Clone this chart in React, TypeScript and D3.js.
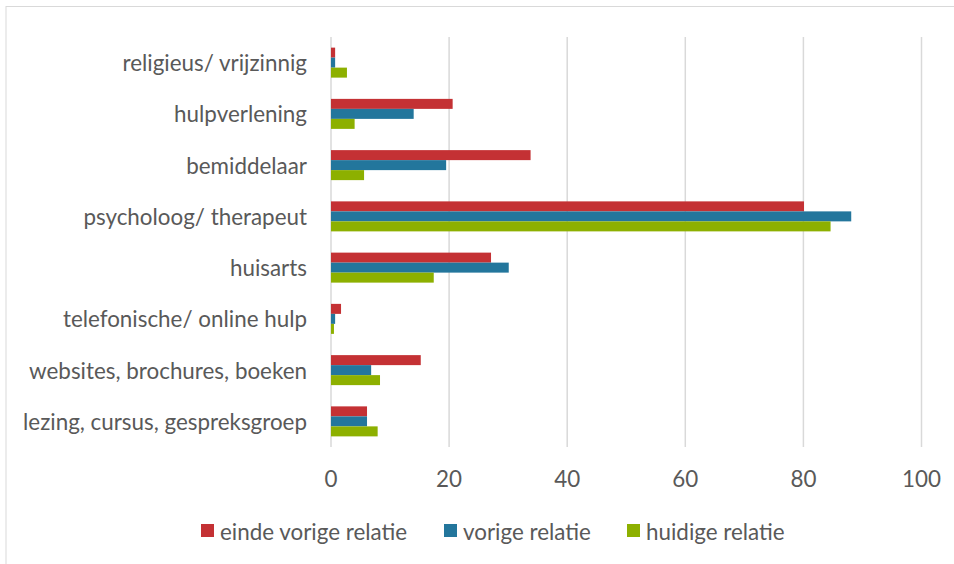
import React from "react";
import * as d3 from "d3";

const categories = [
  "religieus/ vrijzinnig",
  "hulpverlening",
  "bemiddelaar",
  "psycholoog/ therapeut",
  "huisarts",
  "telefonische/ online hulp",
  "websites, brochures, boeken",
  "lezing, cursus, gespreksgroep",
];
const seriesNames = ["einde vorige relatie", "vorige relatie", "huidige relatie"];
const eindeVorige = [0.7, 20.6, 33.8, 80.1, 27.1, 1.7, 15.2, 6.1];
const vorige = [0.7, 14.0, 19.5, 88.1, 30.1, 0.7, 6.8, 6.1];
const huidige = [2.7, 4.0, 5.6, 84.6, 17.4, 0.5, 8.3, 7.9];
const seriesValues = [eindeVorige, vorige, huidige];
const colors = ["#C43134", "#23769C", "#8DB000"];
const xTicks = [0, 20, 40, 60, 80, 100];

const W = 954;
const H = 564;
const FONT = "Lato, 'Open Sans', sans-serif";
const TEXT = "#595959";
const FS = 22.4;

export default function App() {
  const x = d3.scaleLinear().domain([0, 100]).range([331, 921.5]);
  const y = d3.scaleBand<string>().domain(categories).range([37, 447]);
  const groupH = 30;
  const ySeries = d3
    .scaleBand<string>()
    .domain(seriesNames)
    .range([(y.bandwidth() - groupH) / 2, (y.bandwidth() + groupH) / 2]);

  const legendX = [201, 444, 627];

  return (
    <svg
      width={W}
      height={H}
      style={{ position: "absolute", left: 0, top: 0, background: "#fff" }}
      fontFamily={FONT}
    >
      <rect x={6} y={6.5} width={1000} height={600} fill="#fff" stroke="#D9D9D9" strokeWidth={1} />
      {xTicks.map((t) => (
        <line
          key={t}
          x1={x(t)}
          x2={x(t)}
          y1={37}
          y2={447}
          stroke="#D9D9D9"
          strokeWidth={1.5}
        />
      ))}
      {categories.map((c, i) => (
        <g key={c} transform={`translate(0,${y(c)})`}>
          {seriesNames.map((s, j) => (
            <rect
              key={s}
              x={x(0)}
              y={ySeries(s)}
              width={x(seriesValues[j][i]) - x(0)}
              height={ySeries.bandwidth()}
              fill={colors[j]}
            />
          ))}
          <text
            x={307}
            y={y.bandwidth() / 2}
            textAnchor="end"
            dominantBaseline="central"
            fontSize={FS}
            fill={TEXT}
          >
            {c}
          </text>
        </g>
      ))}
      {xTicks.map((t) => (
        <text
          key={t}
          x={x(t)}
          y={478}
          textAnchor="middle"
          dominantBaseline="central"
          fontSize={FS}
          fill={TEXT}
        >
          {t}
        </text>
      ))}
      {seriesNames.map((s, j) => (
        <g key={s} transform={`translate(${legendX[j]},0)`}>
          <rect x={0} y={524} width={13} height={13} fill={colors[j]} />
          <text x={19} y={531} dominantBaseline="central" fontSize={FS} fill={TEXT}>
            {s}
          </text>
        </g>
      ))}
    </svg>
  );
}
